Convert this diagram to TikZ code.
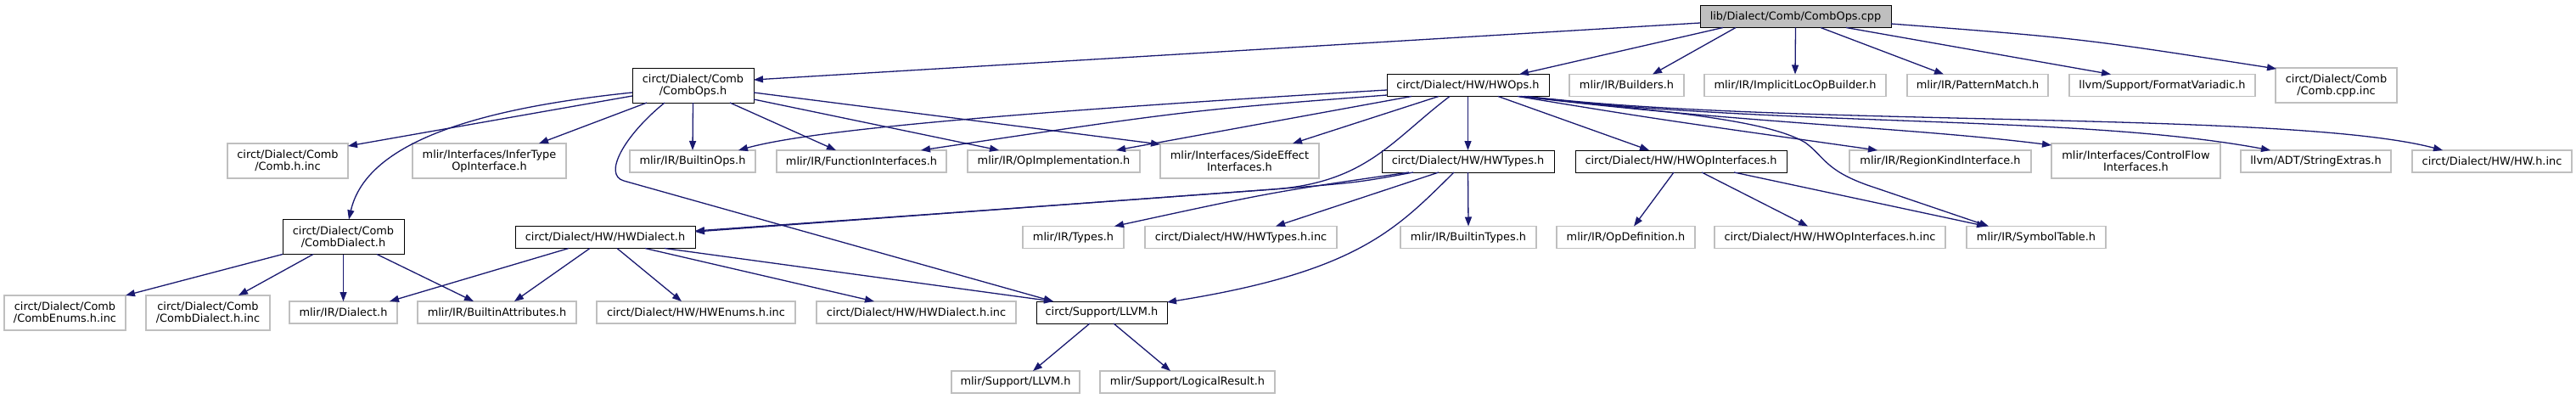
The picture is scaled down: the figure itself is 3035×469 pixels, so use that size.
\documentclass[tikz,border=0pt]{standalone}
\usepackage{fontspec}
\setmainfont{DejaVu Sans}
\usetikzlibrary{arrows.meta,calc}
\definecolor{edgeblue}{HTML}{191970}
\definecolor{leafgray}{HTML}{BFBFBF}
\definecolor{rootgray}{HTML}{BFBFBF}
\begin{document}
\begin{tikzpicture}[x=1pt,y=-1pt,
  box/.style={rectangle,inner sep=0pt,outer sep=0pt,align=center,font=\fontsize{12.9pt}{14pt}\selectfont,minimum height=26pt},
  dbl/.style={minimum height=41pt},
  hbox/.style={box,draw=black,line width=1pt,fill=white},
  lbox/.style={box,draw=leafgray,line width=1.4pt,fill=white},
  rootbox/.style={box,draw=black,line width=1pt,fill=rootgray},
  edge/.style={draw=edgeblue,line width=1.3pt,-{Triangle[length=11pt,width=8pt]}}]
\useasboundingbox (0,0) rectangle (3035,469);
% row 0
\node[rootbox,minimum width=225pt] (cpp) at (2115.5,19.5) {lib/Dialect/Comb/CombOps.cpp};
% row 1
\node[hbox,dbl,minimum width=143pt] (combops) at (816.5,100.5) {circt/Dialect/Comb\\/CombOps.h};
\node[hbox,minimum width=191pt] (hwops) at (1729.5,100.5) {circt/Dialect/HW/HWOps.h};
\node[lbox,minimum width=135pt] (builders) at (1916.5,100.5) {mlir/IR/Builders.h};
\node[lbox,minimum width=214pt] (implicit) at (2115,100.5) {mlir/IR/ImplicitLocOpBuilder.h};
\node[lbox,minimum width=166pt] (pattern) at (2330,100.5) {mlir/IR/PatternMatch.h};
\node[lbox,minimum width=219pt] (format) at (2547.5,100.5) {llvm/Support/FormatVariadic.h};
\node[lbox,dbl,minimum width=143pt] (combcppinc) at (2752.5,100.5) {circt/Dialect/Comb\\/Comb.cpp.inc};
% row 2
\node[lbox,dbl,minimum width=142pt] (combhinc) at (339,189.5) {circt/Dialect/Comb\\/Comb.h.inc};
\node[lbox,dbl,minimum width=181pt] (infertype) at (576.5,189.5) {mlir/Interfaces/InferType\\OpInterface.h};
\node[lbox,minimum width=148pt] (builtinops) at (816,190) {mlir/IR/BuiltinOps.h};
\node[lbox,minimum width=200pt] (funcif) at (1015,190) {mlir/IR/FunctionInterfaces.h};
\node[lbox,minimum width=203pt] (opimpl) at (1241.5,190) {mlir/IR/OpImplementation.h};
\node[lbox,dbl,minimum width=187pt] (sideeffect) at (1460.5,189.5) {mlir/Interfaces/SideEffect\\Interfaces.h};
\node[hbox,minimum width=203pt] (hwtypes) at (1729.5,190) {circt/Dialect/HW/HWTypes.h};
\node[hbox,minimum width=249pt] (hwopif) at (1980.5,190) {circt/Dialect/HW/HWOpInterfaces.h};
\node[lbox,minimum width=214pt] (regionkind) at (2286,190) {mlir/IR/RegionKindInterface.h};
\node[lbox,dbl,minimum width=199pt] (controlflow) at (2516.5,189.5) {mlir/Interfaces/ControlFlow\\Interfaces.h};
\node[lbox,minimum width=177pt] (stringextras) at (2728.5,190) {llvm/ADT/StringExtras.h};
\node[lbox,minimum width=188pt] (hwhinc) at (2936,190) {circt/Dialect/HW/HW.h.inc};
% row 3
\node[hbox,dbl,minimum width=143pt] (combdialect) at (404.5,279) {circt/Dialect/Comb\\/CombDialect.h};
\node[hbox,minimum width=212pt] (hwdialect) at (713,279.5) {circt/Dialect/HW/HWDialect.h};
\node[lbox,minimum width=119pt] (types) at (1264.5,279.5) {mlir/IR/Types.h};
\node[lbox,minimum width=226pt] (hwtypesinc) at (1462,279.5) {circt/Dialect/HW/HWTypes.h.inc};
\node[lbox,minimum width=160pt] (builtintypes) at (1730,279.5) {mlir/IR/BuiltinTypes.h};
\node[lbox,minimum width=163pt] (opdef) at (1915.5,279.5) {mlir/IR/OpDefinition.h};
\node[lbox,minimum width=272pt] (hwopifinc) at (2156,279.5) {circt/Dialect/HW/HWOpInterfaces.h.inc};
\node[lbox,minimum width=164pt] (symtab) at (2399,279.5) {mlir/IR/SymbolTable.h};
% row 4
\node[lbox,dbl,minimum width=143pt] (combenums) at (76.5,368.5) {circt/Dialect/Comb\\/CombEnums.h.inc};
\node[lbox,dbl,minimum width=146pt] (combdialectinc) at (245,368.5) {circt/Dialect/Comb\\/CombDialect.h.inc};
\node[lbox,minimum width=127pt] (dialect) at (404.5,368) {mlir/IR/Dialect.h};
\node[lbox,minimum width=187pt] (builtinattr) at (585.5,368) {mlir/IR/BuiltinAttributes.h};
\node[lbox,minimum width=234pt] (hwenums) at (820,368) {circt/Dialect/HW/HWEnums.h.inc};
\node[lbox,minimum width=235pt] (hwdialectinc) at (1079.5,368) {circt/Dialect/HW/HWDialect.h.inc};
\node[hbox,minimum width=154pt] (llvmcirct) at (1298,368) {circt/Support/LLVM.h};
% row 5
\node[lbox,minimum width=151pt] (mlirllvm) at (1196.5,450) {mlir/Support/LLVM.h};
\node[lbox,minimum width=206pt] (logical) at (1399,450) {mlir/Support/LogicalResult.h};

% edges from cpp
\draw[edge] ($(cpp.west)+(0,7.5)$) -- ($(combops.east)+(0,-6.5)$);
\draw[edge] ($(cpp.south)+(-85.5,0)$) -- ($(hwops.north)+(60.5,0)$);
\draw[edge] ($(cpp.south)+(-70.5,0)$) -- ($(builders.north)+(30.5,0)$);
\draw[edge] (cpp.south) -- (implicit.north);
\draw[edge] ($(cpp.south)+(29.5,0)$) -- ($(pattern.north)+(-40,0)$);
\draw[edge] ($(cpp.south)+(59.5,0)$) -- ($(format.north)+(-60.5,0)$);
\draw[edge] ($(cpp.east)+(0,8.5)$) .. controls (2450,45) .. ($(combcppinc.north west)+(1,1)$);
% edges from combops
\draw[edge] ($(combops.west)+(0,12.5)$) -- ($(combhinc.north east)+(0,3)$);
\draw[edge] ($(combops.south)+(-54.5,0)$) -- ($(infertype.north)+(58.5,0)$);
\draw[edge] (combops.south) -- (builtinops.north);
\draw[edge] ($(combops.south)+(43.5,0)$) -- ($(funcif.north)+(-30,0)$);
\draw[edge] ($(combops.east)+(0,16.5)$) -- ($(opimpl.north)+(-64.5,0)$);
\draw[edge] ($(combops.east)+(0,8.5)$) -- ($(sideeffect.north west)+(0,1)$);
\draw[edge] ($(combops.west)+(0,8.5)$) .. controls (540,130) and (430,175) .. ($(combdialect.north)+(6.5,0)$);
\draw[edge] ($(combops.south)+(-33.5,0)$) .. controls (735,160) and (710,206) .. (735,213) -- ($(llvmcirct.north)+(-57,0)$);
% edges from hwops
\draw[edge] ($(hwops.west)+(0,5.5)$) .. controls (1150,135) and (950,155) .. ($(builtinops.north)+(54,0)$);
\draw[edge] ($(hwops.west)+(0,11.5)$) .. controls (1400,130) .. ($(funcif.north)+(70,0)$);
\draw[edge] ($(hwops.south)+(-66.5,0)$) -- ($(opimpl.north)+(73.5,0)$);
\draw[edge] ($(hwops.south)+(-34.5,0)$) -- ($(sideeffect.north)+(62.5,0)$);
\draw[edge] (hwops.south) -- (hwtypes.north);
\draw[edge] ($(hwops.south)+(35.5,0)$) -- ($(hwopif.north)+(-37.5,0)$);
\draw[edge] ($(hwops.south)+(-21.5,0)$) .. controls (1640,165) and (1610,215) .. (1500,223) .. controls (1200,245) .. ($(hwdialect.east)+(0,-7.5)$);
\draw[edge] ($(hwops.south)+(58.5,0)$) .. controls (1950,140) .. ($(regionkind.north)+(-74,0)$);
\draw[edge] ($(hwops.south)+(62.5,0)$) .. controls (2050,145) and (2250,150) .. ($(controlflow.north west)+(0,2)$);
\draw[edge] ($(hwops.south)+(66.5,0)$) .. controls (2100,150) and (2450,135) .. ($(stringextras.north)+(-53.5,0)$);
\draw[edge] ($(hwops.south)+(70.5,0)$) .. controls (2100,150) and (2700,130) .. ($(hwhinc.north)+(-58,0)$);
\draw[edge] ($(hwops.south)+(60.5,0)$) .. controls (1950,130) and (2080,140) .. (2127,168) .. controls (2150,185) and (2150,200) .. (2200,218) -- ($(symtab.north)+(-56,0)$);
% edges from hwtypes
\draw[edge] ($(hwtypes.south)+(-64.5,0)$) .. controls (1600,215) .. (1500,223) .. controls (1200,245) .. ($(hwdialect.east)+(0,-6.5)$);
\draw[edge] ($(hwtypes.south)+(-69.5,0)$) .. controls (1500,226) .. ($(types.north)+(48.5,0)$);
\draw[edge] ($(hwtypes.south)+(-34.5,0)$) -- ($(hwtypesinc.north)+(41,0)$);
\draw[edge] (hwtypes.south) -- (builtintypes.north);
\draw[edge] ($(hwtypes.south)+(-16.5,0)$) .. controls (1645,270) and (1600,320) .. ($(llvmcirct.north east)+(0,1)$);
% edges from hwopif
\draw[edge] ($(hwopif.south)+(-8.5,0)$) -- ($(opdef.north)+(9.5,0)$);
\draw[edge] ($(hwopif.south)+(24.5,0)$) -- ($(hwopifinc.north)+(-26,0)$);
\draw[edge] ($(hwopif.south)+(62.5,0)$) -- ($(symtab.north)+(-59,0)$);
% edges from hwdialect
\draw[edge] ($(hwdialect.south)+(-43,0)$) -- ($(dialect.north)+(54.5,0)$);
\draw[edge] ($(hwdialect.south)+(-18,0)$) -- ($(builtinattr.north)+(20.5,0)$);
\draw[edge] ($(hwdialect.south)+(14,0)$) -- ($(hwenums.north)+(-17,0)$);
\draw[edge] ($(hwdialect.south)+(47,0)$) -- ($(hwdialectinc.north)+(-49.5,0)$);
\draw[edge] ($(hwdialect.south)+(70,0)$) -- ($(llvmcirct.north)+(-57,0)$);
% edges from combdialect
\draw[edge] (combdialect.south west) -- (combenums.north east);
\draw[edge] ($(combdialect.south)+(-35.5,0)$) -- ($(combdialectinc.north)+(36,0)$);
\draw[edge] (combdialect.south) -- (dialect.north);
\draw[edge] ($(combdialect.south)+(39.5,0)$) -- ($(builtinattr.north)+(-27.5,0)$);
% edges from llvmcirct
\draw[edge] ($(llvmcirct.south)+(-14,0)$) -- ($(mlirllvm.north)+(20.5,0)$);
\draw[edge] ($(llvmcirct.south)+(14,0)$) -- ($(logical.north)+(-20,0)$);
\end{tikzpicture}
\end{document}
